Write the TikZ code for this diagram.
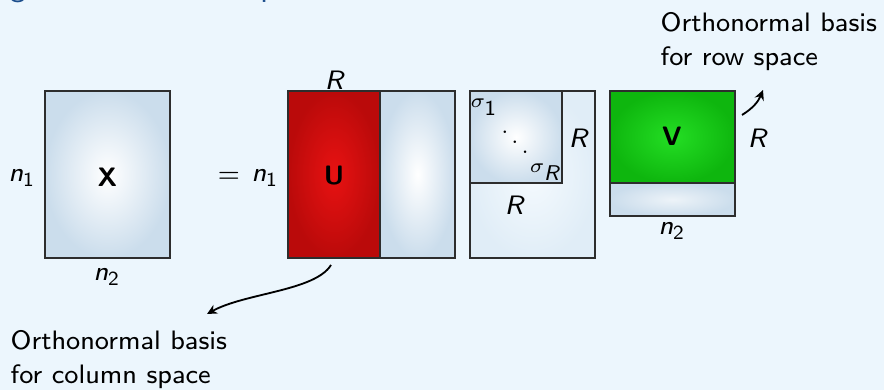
\documentclass[tikz,border=0pt]{standalone}
\usetikzlibrary{arrows.meta}
\definecolor{bg}{RGB}{236,246,253}
\definecolor{mblue}{RGB}{203,221,236}
\definecolor{mred}{RGB}{186,10,10}
\definecolor{mredc}{RGB}{232,18,18}
\definecolor{mgreen}{RGB}{14,182,14}
\definecolor{mgreenc}{RGB}{36,222,36}
\definecolor{edge}{RGB}{45,45,45}
\definecolor{titleblue}{RGB}{28,78,140}
\begin{document}
\begin{tikzpicture}[x=0.3pt,y=-0.3pt,
  font=\sffamily\fontsize{8}{10}\selectfont,
  sz/.style 2 args={minimum width=#1*0.3pt, minimum height=#2*0.3pt},
  matbox/.style={draw=edge, line width=0.4pt, inner sep=0pt, shade, inner color=white, outer color=mblue},
  flatbox/.style={draw=edge, line width=0.4pt, inner sep=0pt, shade, inner color=mblue!35!white, outer color=mblue},
  redbox/.style={draw=edge, line width=0.4pt, inner sep=0pt, shade, inner color=mredc, outer color=mred},
  greenbox/.style={draw=edge, line width=0.4pt, inner sep=0pt, shade, inner color=mgreenc, outer color=mgreen},
  palebox/.style={draw=edge, line width=0.4pt, inner sep=0pt, shade, inner color=white!45!bg, outer color=mblue!35!bg},
  lbl/.style={inner sep=0pt, text=black},
  small/.style={inner sep=0pt, font=\sffamily\fontsize{6.4}{7.5}\selectfont},
  line/.style={inner sep=0pt, anchor=base west},
  arr/.style={line width=0.55pt, -{Stealth[length=3pt,width=2.9pt]}}
]
\useasboundingbox (0,0) rectangle (884,390);
\clip (0,0) rectangle (884,390);
\fill[bg] (0,0) rectangle (884,390);

% title (cut off at the top, as in the reference)
\node[line, text=titleblue, font=\sffamily\fontsize{9.2}{11}\selectfont] (title) at (-32,-3) {Singular Value Decomposition};

% matrices
\node[matbox, sz={125}{167}] (X) at (107.5,174.5) {};
\node[redbox, sz={92}{167}] (Ur) at (334,174.5) {};
\node[matbox, sz={75}{167}] (Ub) at (417.5,174.5) {};
\node[palebox, sz={125}{167}] (So) at (532.5,174.5) {};
\node[matbox, sz={92}{92}] (Si) at (516,137) {};
\node[greenbox, sz={125}{92}] (Vg) at (672.5,137) {};
\node[flatbox, sz={125}{33}] (Vb) at (672.5,199.5) {};

% labels
\node[lbl] (n1a) at (22,178) {\textit{n}\textsubscript{1}};
\node[lbl] (Xl) at (107.5,177) {\textbf{X}};
\node[lbl] (n2a) at (107,277) {\textit{n}\textsubscript{2}};
\node[lbl] (eq) at (229,177) {$=$};
\node[lbl] (n1b) at (265,178) {\textit{n}\textsubscript{1}};
\node[lbl] (Rt) at (335,80) {\textit{R}};
\node[lbl] (Ul) at (334,176) {\textbf{U}};
\node[small] (s1) at (484,107) {$\sigma_{\textsf{1}}$};
\node[lbl, font=\fontsize{6.6}{8}\selectfont] (dd) at (515,132) {$\ddots$};
\node[small] (sR) at (545,172) {$\sigma_{\textit{R}}$};
\node[lbl] (Rr) at (579,138) {\textit{R}};
\node[lbl] (Rb) at (515,205) {\textit{R}};
\node[lbl] (Vl) at (672,136) {\textbf{V}};
\node[lbl] (Rv) at (758,138) {\textit{R}};
\node[lbl] (n2b) at (672,231) {\textit{n}\textsubscript{2}};

% annotations
\node[line] (t1) at (660,32) {Orthonormal basis};
\node[line] (t2) at (660,66) {for row space};
\node[line] (b1) at (10,350) {Orthonormal basis};
\node[line] (b2) at (10,384) {for column space};

% arrows
\coordinate (a1s) at (331,265);
\coordinate (a1e) at (207,314);
\draw[arr] (a1s) .. controls (315,291) and (245,293) .. (a1e);
\coordinate (a2s) at (742,115);
\coordinate (a2e) at (763,90);
\draw[arr] (a2s) to[bend right=18] (a2e);
\end{tikzpicture}
\end{document}
